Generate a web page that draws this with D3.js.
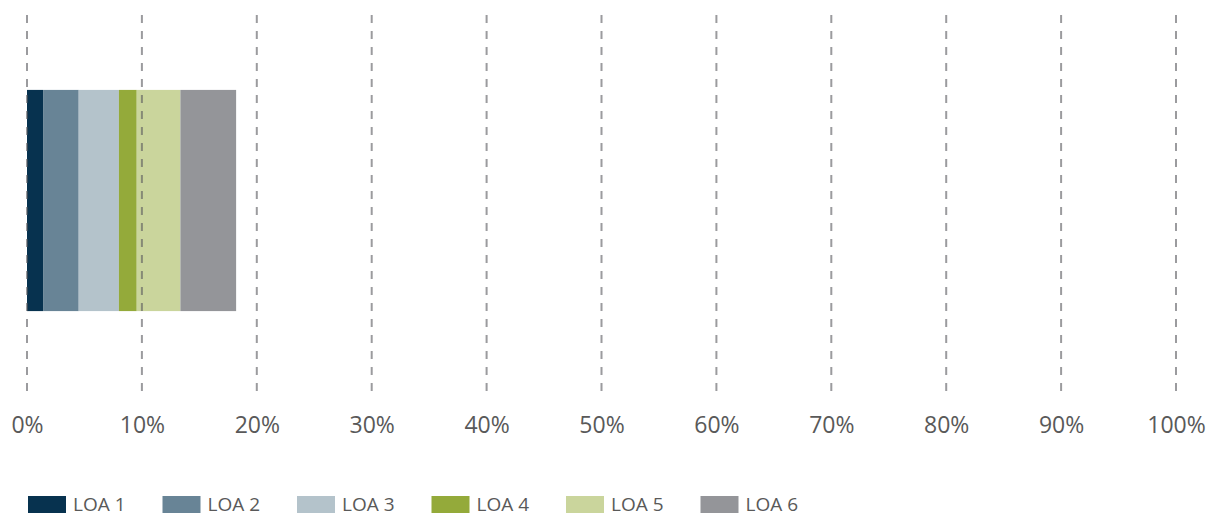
<!DOCTYPE html>
<html>
<head>
    <title>LOA share</title>
    <style>
        body { margin: 0; background: #fff; }
        text { font-family: "Open Sans", "Noto Sans", sans-serif; fill: #595959; }
    </style>
    <script src="https://d3js.org/d3.v7.min.js"></script>
</head>
<body>
    <div id="chart"></div>
    <script>
        // data (percent of total)
        var series = ["LOA 1", "LOA 2", "LOA 3", "LOA 4", "LOA 5", "LOA 6"];
        var values = [1.4, 3.1, 3.5, 1.55, 3.8, 4.85];
        var colors = ["#07324f", "#688496", "#b4c3cb", "#94aa3a", "#cad59c", "#949599"];
        var ticks = [0, 10, 20, 30, 40, 50, 60, 70, 80, 90, 100];

        var width = 1215, height = 517;

        var svg = d3.select("#chart")
            .append("svg")
            .attr("width", width)
            .attr("height", height);

        var x = d3.scaleLinear()
            .domain([0, 100])
            .range([27, 1176]);

        var y = d3.scaleBand()
            .domain(["all"])
            .range([15, 386])
            .padding(0.253);

        // stacked segments
        var stack = [];
        var acc = 0;
        values.forEach(function(v, i) {
            stack.push({ name: series[i], x0: acc, x1: acc + v, color: colors[i] });
            acc += v;
        });

        svg.append("g")
            .selectAll("rect")
            .data(stack)
            .enter()
            .append("rect")
            .attr("x", function(d) { return x(d.x0); })
            .attr("width", function(d) { return x(d.x1) - x(d.x0); })
            .attr("y", y("all"))
            .attr("height", y.bandwidth())
            .attr("fill", function(d) { return d.color; });

        // dashed gridlines sit on top of the bar
        svg.append("g")
            .selectAll("line")
            .data(ticks)
            .enter()
            .append("line")
            .attr("x1", function(d) { return x(d); })
            .attr("x2", function(d) { return x(d); })
            .attr("y1", 15)
            .attr("y2", 397)
            .attr("stroke", "#58585e")
            .attr("stroke-opacity", 0.6)
            .attr("stroke-width", 2)
            .attr("stroke-dasharray", "8,8");

        // axis labels
        var axis = svg.append("g")
            .attr("transform", "translate(0,414)")
            .call(d3.axisBottom(x).tickValues(ticks).tickSize(0).tickFormat(function(d) { return d + "%"; }));
        axis.select(".domain").remove();
        axis.selectAll("text")
            .attr("dy", "0.71em")
            .style("font-size", "23px")
            .style("fill", "#595959");

        // legend
        var legend = svg.append("g")
            .selectAll("g")
            .data(series)
            .enter()
            .append("g")
            .attr("transform", function(d, i) { return "translate(" + (28 + i * 134.5) + ",496)"; });

        legend.append("rect")
            .attr("width", 38)
            .attr("height", 17)
            .attr("fill", function(d, i) { return colors[i]; });

        legend.append("text")
            .attr("x", 45)
            .attr("y", 8)
            .attr("dy", "0.35em")
            .style("font-size", "19px")
            .text(function(d) { return d; });
    </script>
</body>
</html>
